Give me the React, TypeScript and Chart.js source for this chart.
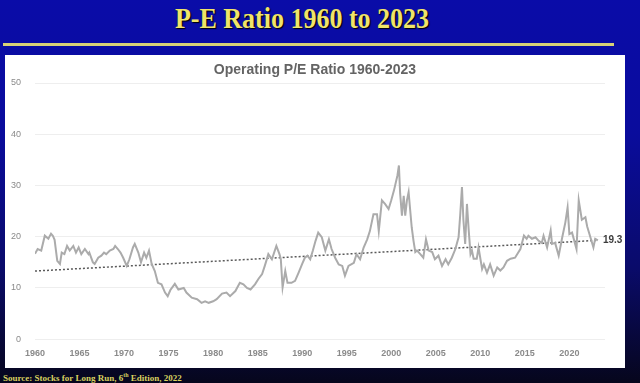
import React, { useEffect, useRef } from "react";
import { Chart, registerables } from "chart.js";

Chart.register(...registerables);

const years: number[] = [
  1960.0, 1960.3, 1960.7, 1961.1, 1961.5, 1961.8, 1962.0, 1962.2, 1962.5, 1962.8,
  1963.0, 1963.3, 1963.6, 1963.9, 1964.3, 1964.6, 1964.9, 1965.2, 1965.6, 1966.0,
  1966.1, 1966.5, 1966.7, 1967.1, 1967.45, 1967.75, 1968.0, 1968.4, 1968.8, 1969.0,
  1969.3, 1969.6, 1969.9, 1970.3, 1970.6, 1971.0, 1971.2, 1971.6, 1971.9, 1972.25,
  1972.5, 1972.8, 1973.1, 1973.45, 1973.8, 1974.2, 1974.6, 1974.9, 1975.2, 1975.7,
  1976.1, 1976.7, 1977.0, 1977.6, 1978.2, 1978.7, 1979.1, 1979.5, 1980.0, 1980.4,
  1981.0, 1981.5, 1981.9, 1982.5, 1983.0, 1983.4, 1983.8, 1984.2, 1984.7, 1985.1,
  1985.5, 1985.8, 1986.2, 1986.6, 1987.1, 1987.45, 1987.6, 1987.8, 1988.1, 1988.35,
  1988.8, 1989.2, 1989.6, 1990.0, 1990.3, 1990.6, 1990.9, 1991.2, 1991.5, 1991.8,
  1992.2, 1992.6, 1993.0, 1993.3, 1993.7, 1994.1, 1994.5, 1994.8, 1995.2, 1995.8,
  1996.1, 1996.5, 1996.9, 1997.3, 1997.6, 1998.0, 1998.4, 1998.6, 1998.95, 1999.3,
  1999.7, 2000.0, 2000.3, 2000.7, 2000.86, 2001.0, 2001.2, 2001.4, 2001.57, 2001.76,
  2001.95, 2002.1, 2002.3, 2002.5, 2002.7, 2002.9, 2003.26, 2003.6, 2003.9, 2004.2,
  2004.6, 2004.9, 2005.3, 2005.7, 2006.1, 2006.4, 2006.8, 2007.2, 2007.56, 2007.75,
  2007.94, 2008.1, 2008.3, 2008.5, 2008.7, 2008.9, 2009.06, 2009.25, 2009.6, 2009.8,
  2010.2, 2010.4, 2010.75, 2011.1, 2011.5, 2011.9, 2012.25, 2012.6, 2013.0, 2013.4,
  2013.9, 2014.5, 2014.9, 2015.2, 2015.4, 2015.8, 2016.2, 2016.55, 2016.9, 2017.1,
  2017.5, 2017.9, 2018.05, 2018.4, 2018.8, 2019.2, 2019.55, 2019.8, 2020.0, 2020.3,
  2020.8, 2021.05, 2021.4, 2021.8, 2022.0, 2022.36, 2022.7, 2022.9, 2023.2,
];

const peValues: number[] = [
  16.7, 17.6, 17.3, 20.2, 19.6, 20.6, 20.2, 19.4, 15.3, 14.7,
  16.9, 16.6, 18.2, 17.3, 18.2, 16.9, 17.9, 16.6, 17.6, 16.6,
  16.9, 15.0, 14.7, 15.9, 16.3, 16.9, 16.6, 17.3, 17.6, 18.2,
  17.6, 16.9, 15.9, 14.3, 15.6, 17.9, 18.6, 16.9, 15.0, 16.9,
  15.9, 17.3, 14.7, 13.3, 11.0, 10.7, 9.1, 8.4, 9.6, 10.8,
  9.7, 10.0, 9.1, 8.1, 7.8, 7.1, 7.4, 7.1, 7.4, 7.8,
  8.9, 9.1, 8.4, 9.4, 11.0, 10.7, 10.0, 9.7, 10.7, 11.8,
  12.7, 14.3, 16.6, 15.6, 18.2, 16.6, 15.6, 10.1, 13.3, 11.0,
  11.0, 11.4, 13.0, 14.7, 15.9, 16.3, 15.6, 17.3, 19.2, 20.8,
  19.9, 17.3, 19.5, 17.6, 15.9, 14.6, 14.3, 12.4, 14.3, 14.9,
  16.6, 15.6, 17.9, 19.5, 21.1, 24.4, 24.4, 21.1, 27.1, 26.4,
  25.4, 27.1, 29.0, 32.0, 33.9, 28.4, 24.1, 28.0, 24.1, 27.1,
  28.7, 25.7, 21.8, 19.2, 17.0, 17.3, 16.6, 15.9, 19.5, 17.3,
  17.0, 15.6, 16.3, 14.3, 15.6, 14.6, 15.9, 17.6, 19.9, 24.4,
  29.7, 23.3, 18.6, 26.4, 21.2, 16.6, 17.3, 15.7, 15.7, 17.9,
  13.7, 14.6, 13.0, 14.6, 12.4, 14.0, 13.4, 14.0, 15.3, 15.7,
  15.9, 17.6, 20.2, 19.6, 20.2, 19.6, 19.9, 19.2, 18.8, 20.2,
  17.9, 21.2, 18.6, 18.8, 16.3, 19.9, 22.8, 25.7, 20.5, 20.8,
  17.6, 27.1, 23.3, 23.8, 22.0, 19.9, 17.9, 19.6, 19.3,
];

const trendYears: number[] = [1960, 2023.2];
const trendValues: number[] = [13.3, 19.3];
const trendLabel = "19.3";

const yTickValues: number[] = [0, 10, 20, 30, 40, 50];
const xTickYears: number[] = [1960, 1965, 1970, 1975, 1980, 1985, 1990, 1995, 2000, 2005, 2010, 2015, 2020];

const pageTitle = "P-E Ratio 1960 to 2023";
const chartTitle = "Operating P/E Ratio 1960-2023";
const sourceNote = "Source: Stocks for Long Run, 6";
const sourceSup = "th";
const sourceRest = " Edition, 2022";

export default function App() {
  const canvasRef = useRef<HTMLCanvasElement | null>(null);

  useEffect(() => {
    if (!canvasRef.current) return;
    const endLabel = {
      id: "endLabel",
      afterDatasetsDraw(chart: any) {
        const ctx = chart.ctx;
        const xs = chart.scales.x;
        const ys = chart.scales.y;
        const x = xs.getPixelForValue(trendYears[trendYears.length - 1]);
        const y = ys.getPixelForValue(trendValues[trendValues.length - 1]);
        ctx.save();
        ctx.font = "bold 10px 'Liberation Sans', Arial, sans-serif";
        ctx.fillStyle = "#3c3c3c";
        ctx.textBaseline = "middle";
        ctx.textAlign = "left";
        ctx.fillText(trendLabel, x + 5, y);
        ctx.restore();
      },
    };

    const chart = new Chart(canvasRef.current, {
      type: "line",
      data: {
        datasets: [
          {
            data: years.map((x, i) => ({ x, y: peValues[i] })),
            borderColor: "#ababab",
            borderWidth: 2,
            pointRadius: 0,
            tension: 0,
            fill: false,
          },
          {
            data: trendYears.map((x, i) => ({ x, y: trendValues[i] })),
            borderColor: "#5a5a5a",
            borderWidth: 1.5,
            borderDash: [2, 2],
            pointRadius: 0,
            tension: 0,
            fill: false,
          },
        ],
      },
      options: {
        animation: false,
        responsive: true,
        maintainAspectRatio: false,
        layout: { padding: { top: 28, right: 20, bottom: 0, left: 0 } },
        plugins: {
          legend: { display: false },
          tooltip: { enabled: false },
          title: { display: false },
        },
        scales: {
          x: {
            type: "linear",
            min: 1960,
            max: 2024,
            afterBuildTicks: (s: any) => {
              s.ticks = xTickYears.map((v) => ({ value: v }));
            },
            grid: { display: false, drawTicks: false },
            border: { display: false },
            ticks: {
              autoSkip: false,
              maxRotation: 0,
              padding: 9,
              color: "#8a8a8a",
              font: { family: "'Liberation Sans', Arial, sans-serif", size: 9, weight: "bold" },
              callback: (v: any) => String(v),
            },
          },
          y: {
            min: 0,
            max: 50,
            afterBuildTicks: (s: any) => {
              s.ticks = yTickValues.map((v) => ({ value: v }));
            },
            afterFit: (s: any) => {
              s.width = 30;
            },
            grid: { color: "#eeeeee", drawTicks: false },
            border: { display: false },
            ticks: {
              padding: 14,
              color: "#8a8a8a",
              font: { family: "'Liberation Sans', Arial, sans-serif", size: 9 },
            },
          },
        },
      },
      plugins: [endLabel],
    });
    return () => chart.destroy();
  }, []);

  return (
    <div
      style={{
        position: "fixed",
        left: 0,
        top: 0,
        width: 640,
        height: 383,
        overflow: "hidden",
        background: "linear-gradient(180deg, #0a0ca8 0%, #0a0c9c 35%, #0a0b6a 70%, #06061c 100%)",
      }}
    >
      <div
        style={{
          position: "absolute",
          left: 0,
          top: 4,
          width: 604,
          textAlign: "center",
          fontFamily: "'Liberation Serif', 'Times New Roman', serif",
          fontWeight: "bold",
          fontSize: 26,
          color: "#efe46a",
          textShadow: "1px 1px 1px #000",
          lineHeight: "30px",
          transform: "scaleY(1.1)",
        }}
      >
        {pageTitle}
      </div>
      <div
        style={{
          position: "absolute",
          left: 3,
          top: 43,
          width: 611,
          height: 3,
          background: "#d9d277",
        }}
      />
      <div
        style={{
          position: "absolute",
          left: 5,
          top: 55,
          width: 620,
          height: 313,
          background: "#ffffff",
        }}
      >
        <div
          style={{
            position: "absolute",
            left: 0,
            top: 6,
            width: 620,
            textAlign: "center",
            fontFamily: "'Liberation Sans', Arial, sans-serif",
            fontWeight: "bold",
            fontSize: 14,
            color: "#646464",
            lineHeight: "17px",
            zIndex: 2,
          }}
        >
          {chartTitle}
        </div>
        <div style={{ position: "absolute", left: 0, top: 0, width: 620, height: 313 }}>
          <canvas ref={canvasRef} />
        </div>
      </div>
      <div
        style={{
          position: "absolute",
          left: 3,
          top: 369,
          fontFamily: "'Liberation Serif', 'Times New Roman', serif",
          fontWeight: "bold",
          fontSize: 9,
          color: "#d8d060",
          lineHeight: "12px",
          whiteSpace: "nowrap",
        }}
      >
        {sourceNote}
        <sup style={{ fontSize: 6 }}>{sourceSup}</sup>
        {sourceRest}
      </div>
    </div>
  );
}
